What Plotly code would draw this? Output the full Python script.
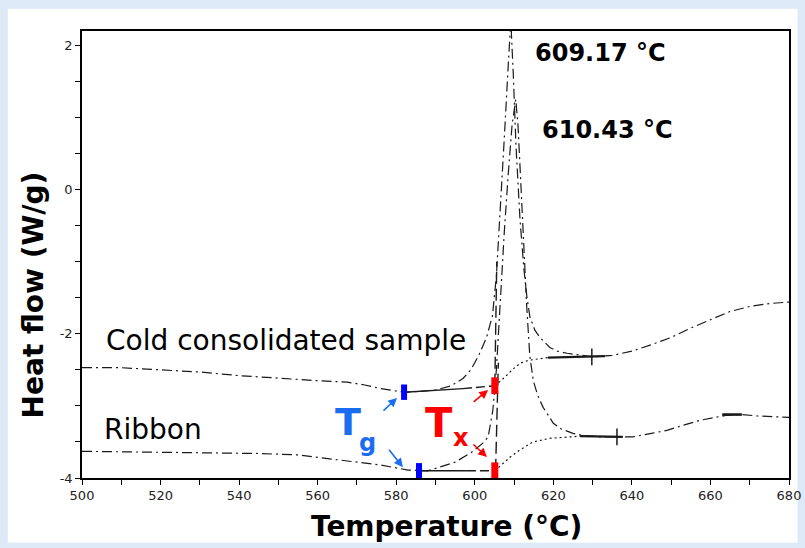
import plotly.graph_objects as go

# ---------------- data ----------------
# Cold consolidated sample (DSC trace)
cold_T = [500, 510, 520, 530, 540, 550, 560, 567.5, 572, 576, 580, 582, 586, 590,
          594, 597, 599, 601, 603, 604.5, 605.5, 606.5, 607.5, 608.5, 609.17,
          609.8, 610.5, 611.5, 612.5, 613.3, 614.05, 615.3, 616.6, 619.1, 621,
          623.5, 627, 630, 635, 640, 645, 650, 655, 660, 665, 670, 675, 680]
cold_V = [-2.47, -2.47, -2.50, -2.53, -2.58, -2.62, -2.65, -2.67, -2.71, -2.76, -2.80, -2.81, -2.80, -2.78,
          -2.72, -2.62, -2.50, -2.30, -2.05, -1.75, -1.20, -0.30, 0.70, 1.70, 2.35,
          1.60, 0.60, -0.40, -1.10, -1.50, -1.77, -1.95, -2.05, -2.19, -2.24,
          -2.27, -2.30, -2.32, -2.30, -2.24, -2.15, -2.05, -1.92, -1.80, -1.69, -1.62, -1.58, -1.56]

# Ribbon (DSC trace)
rib_T = [500, 525, 545, 555, 565.7, 576, 583, 586, 588, 590.4, 595, 599, 602, 603.4,
         604.6, 605.5, 606.5, 607.5, 608.5, 609.5, 610.43, 611, 611.8, 612.5, 613.2,
         614, 614.9, 616, 617.4, 620, 622, 625, 627.5, 632, 636, 640.3, 645, 648.9,
         653, 657.3, 661, 664.2, 668, 672, 680]
rib_V = [-3.63, -3.65, -3.66, -3.68, -3.75, -3.82, -3.89, -3.90, -3.90, -3.86, -3.78, -3.65, -3.52, -3.43,
         -3.06, -2.50, -1.50, -0.60, 0.20, 0.90, 1.25, 0.90, 0.00, -0.90, -1.60,
         -2.30, -2.65, -2.85, -3.02, -3.24, -3.32, -3.38, -3.41, -3.43, -3.43, -3.43, -3.38, -3.34,
         -3.27, -3.20, -3.16, -3.13, -3.12, -3.14, -3.16]

# Analysis lines (extrapolated baselines, tangents, sigmoidal baselines)
cold_base_T = [582.0, 597.0]
cold_base_V = [-2.81, -2.76]
cold_base2_T = [597.0, 605.1]
cold_base2_V = [-2.76, -2.72]
rib_base_T = [585.8, 598.0]
rib_base_V = [-3.90, -3.90]
rib_base2_T = [598.0, 605.1]
rib_base2_V = [-3.90, -3.90]

cold_tan_T = [605.1, 605.6]
cold_tan_V = [-2.72, -1.0]
rib_tan_T = [605.3, 606.0]
rib_tan_V = [-3.90, -2.40]

cold_sig_T = [605.1, 607.7, 609.5, 611.5, 613, 614.6, 618.6]
cold_sig_V = [-2.72, -2.60, -2.50, -2.41, -2.38, -2.36, -2.33]
rib_sig_T = [605.1, 609.0, 611.5, 613.2, 614.8, 619.1, 626.8]
rib_sig_V = [-3.90, -3.71, -3.61, -3.55, -3.50, -3.45, -3.42]

cold_end_T = [618.6, 633.1]
cold_end_V = [-2.33, -2.31]
rib_end_T = [626.8, 637.7]
rib_end_V = [-3.42, -3.43]
rib_mark_T = [663.0, 668.0]
rib_mark_V = [-3.12, -3.12]

# Markers
tg_T = [582.0, 585.8]
tg_V = [-2.81, -3.90]
tx_T = [605.1, 605.1]
tx_V = [-2.72, -3.90]
plus_T = [629.8, 636.2]
plus_V = [-2.32, -3.43]

x_ticks = [500, 520, 540, 560, 580, 600, 620, 640, 660, 680]
x_ticklabels = [str(v) for v in x_ticks]
y_ticks = [2, 0, -2, -4]
y_ticklabels = ["2", "0", "-2", "-4"]

# ---------------- figure ----------------
FONT = "DejaVu Sans"
DASH = "10px,4px,2px,4px"
LC = "#1a1a1a"

fig = go.Figure()

def line(xs, ys, dash=DASH, width=1.2):
    fig.add_trace(go.Scatter(x=xs, y=ys, mode="lines",
                             line=dict(color=LC, width=width, dash=dash),
                             hoverinfo="skip", showlegend=False))

line(cold_T, cold_V)
line(rib_T, rib_V)
line(cold_base_T, cold_base_V, dash="solid", width=1.4)
line(cold_base2_T, cold_base2_V, dash="9px,4px", width=1.4)
line(rib_base_T, rib_base_V, dash="solid", width=1.4)
line(rib_base2_T, rib_base2_V, dash="9px,4px", width=1.4)
line(cold_tan_T, cold_tan_V, dash="12px,5px", width=1.4)
line(rib_tan_T, rib_tan_V, dash="12px,5px", width=1.4)
line(cold_sig_T, cold_sig_V, dash="2px,3px", width=1.2)
line(rib_sig_T, rib_sig_V, dash="2px,3px", width=1.2)
line(cold_end_T, cold_end_V, dash="solid", width=2.2)
line(rib_end_T, rib_end_V, dash="solid", width=2.2)
line(rib_mark_T, rib_mark_V, dash="solid", width=2.6)

fig.add_trace(go.Scatter(x=tg_T, y=tg_V, mode="markers",
                         marker=dict(symbol="line-ns", size=11,
                                     line=dict(color="#0000ff", width=6)),
                         hoverinfo="skip", showlegend=False))
fig.add_trace(go.Scatter(x=tx_T, y=tx_V, mode="markers",
                         marker=dict(symbol="line-ns", size=12,
                                     line=dict(color="#ff0000", width=7)),
                         hoverinfo="skip", showlegend=False))
fig.add_trace(go.Scatter(x=plus_T, y=plus_V, mode="markers",
                         marker=dict(symbol="line-ns", size=12,
                                     line=dict(color=LC, width=1.5)),
                         hoverinfo="skip", showlegend=False))

# Texts
def txt(x, y, s, size, color="#000", bold=False, xanchor="left"):
    fig.add_annotation(x=x, y=y, xref="x", yref="y", text=(f"<b>{s}</b>" if bold else s),
                       showarrow=False, xanchor=xanchor, yanchor="middle",
                       font=dict(family=FONT, size=size, color=color))

txt(505.6, -2.09, "Cold consolidated sample", 28)
txt(505.1, -3.33, "Ribbon", 28)
txt(614.8, 1.90, "609.17 °C", 24, bold=True)
txt(616.6, 0.82, "610.43 °C", 24, bold=True)
txt(567.6, -3.22, "T", 38, color="#1a6cf0", bold=True, xanchor="center")
txt(572.6, -3.52, "g", 24, color="#1a6cf0", bold=True, xanchor="center")
txt(590.8, -3.24, "T", 40, color="#ff0000", bold=True, xanchor="center")
txt(596.6, -3.45, "x", 24, color="#ff0000", bold=True, xanchor="center")

# Axis titles (placed as in the reference)
fig.add_annotation(x=-0.069, y=0.409, xref="paper", yref="paper", text="<b>Heat flow (W/g)</b>",
                   textangle=-90, showarrow=False, xanchor="center", yanchor="middle",
                   font=dict(family=FONT, size=28, color="#000"))
fig.add_annotation(x=0.516, y=-0.1096, xref="paper", yref="paper", text="<b>Temperature (°C)</b>",
                   showarrow=False, xanchor="center", yanchor="middle",
                   font=dict(family=FONT, size=28, color="#000"))

# Arrows
def arrow(x, y, ax, ay, color):
    fig.add_annotation(x=x, y=y, xref="x", yref="y", ax=ax, ay=ay, text="",
                       showarrow=True, arrowhead=2, arrowsize=1.1, arrowwidth=1.6,
                       arrowcolor=color)

arrow(580.2, -2.89, -15, 14, "#1a6cf0")
arrow(581.7, -3.85, -15, -19, "#1a6cf0")
arrow(603.4, -2.78, -16, 13, "#ff0000")
arrow(603.1, -3.71, -15, -14, "#ff0000")

# white picture area on light blue background
fig.add_shape(type="rect", xref="paper", yref="paper",
              x0=-0.105, x1=1.012, y0=-0.145, y1=1.05,
              fillcolor="white", line=dict(width=0), layer="below")

fig.update_layout(
    width=805, height=548,
    margin=dict(l=82, r=16, t=31, b=70, autoexpand=False),
    paper_bgcolor="#dde9f6",
    plot_bgcolor="white",
    font=dict(family=FONT, color="#000"),
    xaxis=dict(range=[500, 680], tickvals=x_ticks, ticktext=x_ticklabels,
               ticks="outside", ticklen=5, tickwidth=1, tickcolor="#000",
               minor=dict(dtick=10, ticks="outside", ticklen=5, tickcolor="#000"),
               showline=True, linecolor="#000", linewidth=1.5, mirror=True,
               showgrid=False, zeroline=False, automargin=False,
               tickfont=dict(size=13, color="#222")),
    yaxis=dict(range=[-4, 2.2], tickvals=y_ticks, ticktext=y_ticklabels,
               ticks="outside", ticklen=5, tickwidth=1, tickcolor="#000",
               minor=dict(dtick=0.5, ticks="outside", ticklen=5, tickcolor="#000"),
               showline=True, linecolor="#000", linewidth=1.5, mirror=True,
               showgrid=False, zeroline=False, automargin=False,
               tickfont=dict(size=13, color="#222")),
)

fig.write_html("out.html", config={"displayModeBar": False},
               post_script="document.body.style.margin='0';document.body.style.padding='0';")
